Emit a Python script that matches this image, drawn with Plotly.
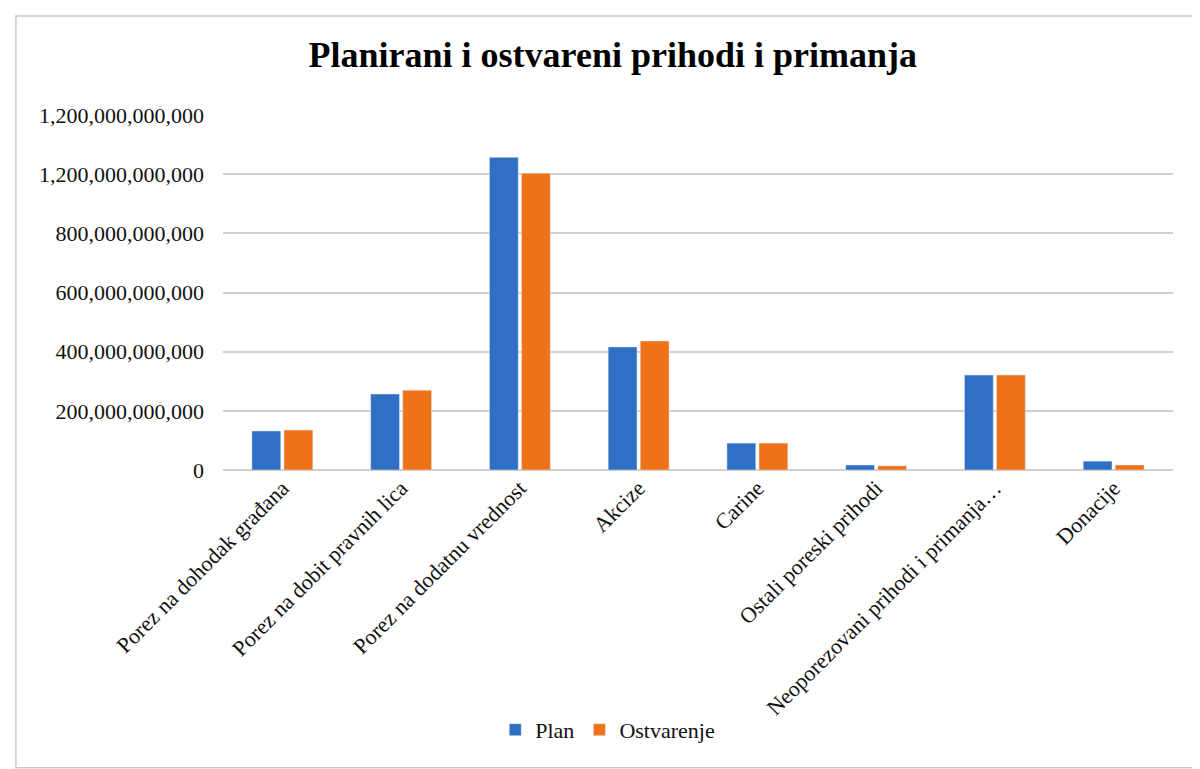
import plotly.graph_objects as go

categories = ["Porez na dohodak građana", "Porez na dobit pravnih lica", "Porez na dodatnu vrednost",
              "Akcize", "Carine", "Ostali poreski prihodi", "Neoporezovani prihodi i primanja…", "Donacije"]
plan = [132e9, 257e9, 1057e9, 416e9, 91e9, 17e9, 321e9, 30e9]
ostvarenje = [135e9, 270e9, 1003e9, 436e9, 91e9, 14e9, 321e9, 17e9]
tick_vals = [0, 200e9, 400e9, 600e9, 800e9, 1000e9, 1200e9]
tick_text = ["0", "200,000,000,000", "400,000,000,000", "600,000,000,000",
             "800,000,000,000", "1,200,000,000,000", "1,200,000,000,000"]

fig = go.Figure()
fig.add_bar(x=categories, y=plan, name="Plan", marker_color="#3070C4")
fig.add_bar(x=categories, y=ostvarenje, name="Ostvarenje", marker_color="#EE7218")

fig.update_layout(
    width=1200, height=769,
    margin=dict(l=215, r=35, t=107, b=307),
    paper_bgcolor="white", plot_bgcolor="white",
    font=dict(family="Liberation Serif", size=22, color="#111"),
    title=dict(text="<b>Planirani i ostvareni prihodi i primanja</b>", x=0.504, y=0.94,
               xanchor="center", yanchor="middle", font=dict(size=36, color="black")),
    barmode="group", bargap=0.46, bargroupgap=0.1,
    legend=dict(orientation="h", x=0.405, y=-0.732, xanchor="center", yanchor="middle",
                font=dict(size=22)),
    showlegend=True,
)
fig.update_xaxes(tickangle=-45, showline=False, ticks="", tickfont=dict(size=22), automargin=False)
fig.update_yaxes(range=[0, 1200e9], tickvals=tick_vals, ticktext=tick_text, automargin=False,
                 showgrid=True, gridcolor="#D0D0D0", gridwidth=1.5, zeroline=True,
                 zerolinecolor="#D0D0D0", ticks="", tickfont=dict(size=22), ticklabelstandoff=18)
fig.add_shape(type="rect", xref="paper", yref="paper", x0=-0.218, x1=1.028, y0=-0.839, y1=1.279,
              line=dict(color="#C8C8C8", width=1.5))

fig.write_html("out.html")
